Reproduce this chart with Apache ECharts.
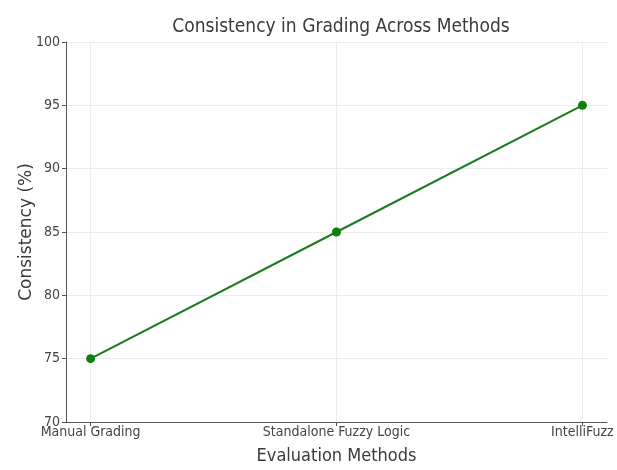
<!DOCTYPE html>
<html>
<head>
<meta charset="utf-8">
<script src="https://cdn.jsdelivr.net/npm/echarts@6/dist/echarts.min.js"></script>
<style>
  html, body { margin: 0; padding: 0; background: #fff; }
  #chart { width: 617px; height: 470px; }
</style>
</head>
<body>
<div id="chart"></div>
<script>
// Grading consistency per evaluation method
const methods = ['Manual Grading', 'Standalone Fuzzy Logic', 'IntelliFuzz'];
const consistency = [75, 85, 95];
const yTicks = [70, 75, 80, 85, 90, 95, 100];

const NARROW = '"DejaVu Sans Condensed", "DejaVu Sans", sans-serif';
const WIDE = '"DejaVu Sans", sans-serif';
const positions = methods.map((_, i) => i);

const chart = echarts.init(document.getElementById('chart'), null, { renderer: 'canvas' });
chart.setOption({
  animation: false,
  backgroundColor: '#ffffff',
  title: {
    text: 'Consistency in Grading Across Methods',
    left: 336, top: 13, textAlign: 'center',
    textStyle: { fontFamily: NARROW, fontSize: 19, fontWeight: 'normal', color: '#3a3a3a' }
  },
  grid: { left: 66, right: 10, top: 42, bottom: 43, containLabel: false },
  xAxis: {
    type: 'value',
    min: -0.1, max: 2.1,
    name: 'Evaluation Methods',
    nameLocation: 'middle', nameGap: 25,
    nameTextStyle: { fontFamily: NARROW, fontSize: 18, color: '#3a3a3a' },
    axisLine: { show: true, onZero: false, lineStyle: { color: '#555', width: 1 } },
    axisTick: { show: true, length: 4, customValues: positions, lineStyle: { color: '#555' } },
    axisLabel: {
      customValues: positions,
      formatter: v => methods[Math.round(v)],
      fontFamily: NARROW, fontSize: 14, color: '#444', margin: 3
    },
    splitLine: { show: true, lineStyle: { color: '#ececec', width: 1 } }
  },
  yAxis: {
    type: 'value',
    min: yTicks[0], max: yTicks[yTicks.length - 1], interval: 5,
    name: 'Consistency (%)',
    nameLocation: 'middle', nameGap: 31, nameRotate: 90,
    nameMoveOverlap: false,
    nameTextStyle: { fontFamily: WIDE, fontSize: 17, color: '#3a3a3a' },
    axisLine: { show: true, onZero: false, lineStyle: { color: '#555', width: 1 } },
    axisTick: { show: true, length: 4, lineStyle: { color: '#555' } },
    axisLabel: { fontFamily: NARROW, fontSize: 14, color: '#444', margin: 6 },
    splitLine: { show: true, lineStyle: { color: '#ececec', width: 1 } }
  },
  series: [{
    type: 'line',
    data: positions.map((p, i) => [p, consistency[i]]),
    symbol: 'circle', symbolSize: 9,
    lineStyle: { color: '#1d7a1d', width: 2 },
    itemStyle: { color: '#0b820b' }
  }]
});
</script>
</body>
</html>
